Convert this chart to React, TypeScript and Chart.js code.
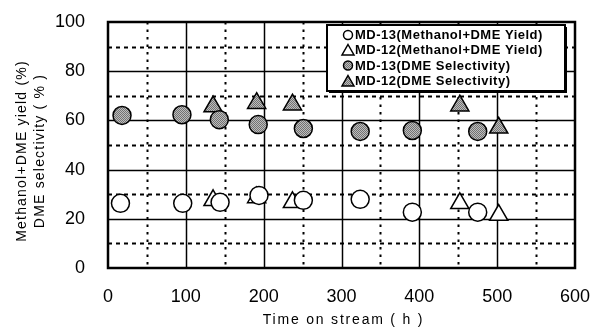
import React, { useEffect, useRef } from "react";
import { Chart, registerables } from "chart.js";

Chart.register(...registerables);

// ---- data ----
const md13YieldX = [16, 96, 144, 194, 251, 324, 391, 475];
const md13YieldY = [26.3, 26.3, 26.7, 29.5, 27.5, 27.9, 22.7, 22.7];
const md12YieldX = [135, 191, 237, 452, 502];
const md12YieldY = [27.5, 28.7, 26.7, 26.3, 21.5];
const md13SelX = [18, 95, 143, 193, 251, 324, 391, 475];
const md13SelY = [62, 62.3, 60.3, 58.3, 56.7, 55.5, 55.9, 55.5];
const md12SelX = [135, 191, 237, 452, 502];
const md12SelY = [65.6, 67, 66.4, 66, 57];

const seriesLabels = [
  "MD-13(Methanol+DME Yield)",
  "MD-12(Methanol+DME Yield)",
  "MD-13(DME Selectivity)",
  "MD-12(DME Selectivity)",
];
const xTitle = "Time on stream ( h )";
const yTitleLines = ["Methanol+DME yield (%)", "DME selectivity ( % )"];
const xMin = 0, xMax = 600, xMajor = 100, xMinor = 50;
const yMin = 0, yMax = 100, yMajor = 20, yMinor = 10;

const FONT = "'Liberation Sans', Arial, sans-serif";

function pts(xs: number[], ys: number[]) {
  return xs.map((x, i) => ({ x, y: ys[i] }));
}

function makeGray(): CanvasPattern | string {
  const c = document.createElement("canvas");
  c.width = 2;
  c.height = 2;
  const g = c.getContext("2d");
  if (!g) return "#999";
  g.fillStyle = "#bdbdbd";
  g.fillRect(0, 0, 2, 2);
  g.fillStyle = "#727272";
  g.fillRect(0, 0, 1, 1);
  g.fillRect(1, 1, 1, 1);
  const p = g.createPattern(c, "repeat");
  return p || "#999";
}

const gridPlugin = {
  id: "customGrid",
  beforeDatasetsDraw(chart: any) {
    const { ctx, chartArea: a, scales } = chart;
    const xs = scales.x, ys = scales.y;
    ctx.save();
    ctx.strokeStyle = "#000";
    for (let v = xMin + xMinor; v < xMax; v += xMinor) {
      const px = Math.round(xs.getPixelForValue(v)) + 0.5;
      const major = v % xMajor === 0;
      ctx.lineWidth = major ? 1.5 : 2;
      ctx.setLineDash(major ? [] : [2.5, 5]);
      ctx.beginPath();
      ctx.moveTo(px, a.top);
      ctx.lineTo(px, a.bottom);
      ctx.stroke();
    }
    for (let v = yMin + yMinor; v < yMax; v += yMinor) {
      const py = Math.round(ys.getPixelForValue(v)) + 0.5;
      const major = v % yMajor === 0;
      ctx.lineWidth = major ? 1.5 : 2;
      ctx.setLineDash(major ? [] : [4, 4]);
      ctx.beginPath();
      ctx.moveTo(a.left, py);
      ctx.lineTo(a.right, py);
      ctx.stroke();
    }
    ctx.setLineDash([]);
    ctx.lineWidth = 2.5;
    ctx.strokeRect(a.left, a.top, a.right - a.left, a.bottom - a.top);
    ctx.restore();
  },
  afterDraw(chart: any) {
    const { ctx, chartArea: a } = chart;
    ctx.save();
    // axis titles
    ctx.fillStyle = "#000";
    (ctx as any).letterSpacing = "1.8px";
    ctx.font = `14px ${FONT}`;
    ctx.textAlign = "center";
    ctx.textBaseline = "middle";
    ctx.fillText(xTitle, (a.left + a.right) / 2 + 2, 320);
    (ctx as any).letterSpacing = "1.2px";
    ctx.font = `14px ${FONT}`;
    ctx.translate(0, (a.top + a.bottom) / 2);
    ctx.rotate(-Math.PI / 2);
    ctx.fillText(yTitleLines[0], -6, 22);
    ctx.fillText(yTitleLines[1], -6, 40);
    ctx.restore();

    // legend box
    ctx.save();
    const lx = 327, ly = 25, lw = 238, lh = 66;
    ctx.fillStyle = "#000";
    ctx.fillRect(lx + 2, ly + 2, lw, lh);
    ctx.fillStyle = "#fff";
    ctx.fillRect(lx, ly, lw, lh);
    ctx.lineWidth = 2;
    ctx.strokeStyle = "#000";
    ctx.strokeRect(lx, ly, lw, lh);
    const ds = chart.data.datasets;
    const rows = [35, 50, 65.5, 81];
    ds.forEach((d: any, i: number) => {
      const cy = rows[i];
      const cx = 348;
      ctx.beginPath();
      ctx.lineWidth = 1.5;
      ctx.strokeStyle = "#000";
      ctx.fillStyle = d.backgroundColor;
      if (d.pointStyle === "circle") {
        ctx.arc(cx, cy, 4.5, 0, Math.PI * 2);
      } else {
        ctx.moveTo(cx, cy - 5.5);
        ctx.lineTo(cx + 6, cy + 5);
        ctx.lineTo(cx - 6, cy + 5);
        ctx.closePath();
      }
      ctx.fill();
      ctx.stroke();
      ctx.fillStyle = "#000";
      (ctx as any).letterSpacing = "0.5px";
      ctx.font = `bold 13px ${FONT}`;
      ctx.textAlign = "left";
      ctx.textBaseline = "middle";
      ctx.fillText(d.label, 355, cy + 0.5);
    });
    ctx.restore();
  },
};

export default function App() {
  const ref = useRef<HTMLCanvasElement>(null);
  useEffect(() => {
    document.body.style.margin = "0";
    const canvas = ref.current;
    if (!canvas) return;
    const gray = makeGray();
    const base = { showLine: false, borderColor: "#000", borderWidth: 1.5 };
    const noOverhang = (s: any) => {
      s.paddingLeft = 0;
      s.paddingRight = 0;
      s.paddingTop = 0;
      s.paddingBottom = 0;
    };
    const chart = new Chart(canvas, {
      type: "scatter",
      data: {
        datasets: [
          { ...base, label: seriesLabels[0], data: pts(md13YieldX, md13YieldY), pointStyle: "circle", pointRadius: 9, backgroundColor: "#fff" },
          { ...base, label: seriesLabels[1], data: pts(md12YieldX, md12YieldY), pointStyle: "triangle", pointRadius: 10.5, backgroundColor: "#fff" },
          { ...base, label: seriesLabels[2], data: pts(md13SelX, md13SelY), pointStyle: "circle", pointRadius: 9, backgroundColor: gray as any },
          { ...base, label: seriesLabels[3], data: pts(md12SelX, md12SelY), pointStyle: "triangle", pointRadius: 10.5, backgroundColor: gray as any },
        ],
      },
      options: {
        animation: false,
        responsive: false,
        maintainAspectRatio: false,
        layout: { padding: { left: 0, top: 22, right: 17, bottom: 0 } },
        plugins: { legend: { display: false }, tooltip: { enabled: false } },
        scales: {
          x: {
            type: "linear",
            min: xMin,
            max: xMax,
            grid: { display: false },
            border: { display: false },
            ticks: { stepSize: xMajor, color: "#000", padding: 10, font: { size: 18, family: FONT } },
            afterFit: (s: any) => { s.height = 61; noOverhang(s); },
          },
          y: {
            type: "linear",
            min: yMin,
            max: yMax,
            grid: { display: false },
            border: { display: false },
            ticks: { stepSize: yMajor, color: "#000", padding: 15, font: { size: 18, family: FONT } },
            afterFit: (s: any) => { s.width = 108; noOverhang(s); },
          },
        },
      },
      plugins: [gridPlugin],
    });
    return () => chart.destroy();
  }, []);
  return (
    <div style={{ width: 592, height: 329, background: "#fff" }}>
      <canvas ref={ref} width={592} height={329} style={{ display: "block", width: 592, height: 329 }} />
    </div>
  );
}
